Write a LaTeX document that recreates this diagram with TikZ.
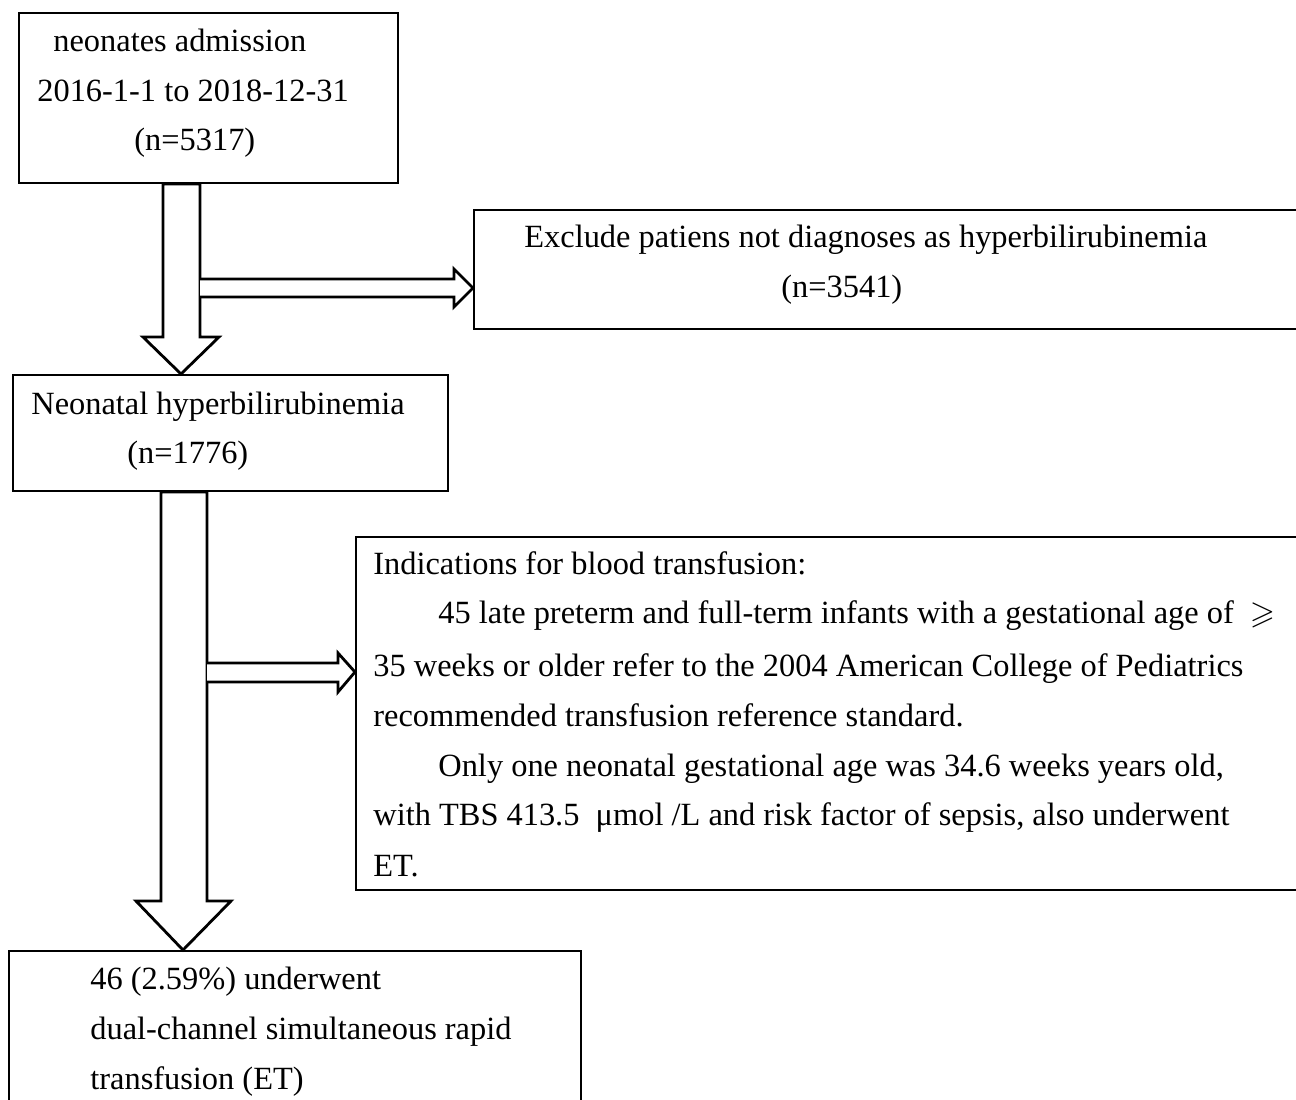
\documentclass[tikz,border=0pt]{standalone}
\usepackage{amssymb}
\usepackage{fontspec}
\setmainfont{Liberation Serif}
\usetikzlibrary{fit,%
		positioning}

\tikzset{box/.style={draw,line width=1pt,inner sep=0pt},
	txt/.style={anchor=base west,inner sep=0pt,font=\fontsize{16.2}{25}\selectfont},
	blockarrow/.style={draw,line width=1.4pt,line join=miter,fill=white}}

\begin{document}
\begin{tikzpicture}[x=0.5pt,y=-0.5pt]
\useasboundingbox (0,0) rectangle (1296,1099);
\clip (0,0) rectangle (1296,1099);

% boxes
\node[box,fit={(19,13) (398,183)}] (admit) {};
\node[box,fit={(474,210) (1310,329)}] (exclude) {};
\node[box,fit={(13,375) (448,491)}] (hyper) {};
\node[box,fit={(356,537) (1310,890)}] (indic) {};
\node[box,fit={(9,951) (581,1120)}] (et) {};

% texts
\node[txt] (admit-1) at (53,51) {neonates admission};
\node[txt] (admit-2) at (37,101) {2016-1-1 to 2018-12-31};
\node[txt] (admit-3) at (134,150) {(n=5317)};

\node[txt] (exclude-1) at (524,247) {Exclude patiens not diagnoses as hyperbilirubinemia};
\node[txt] (exclude-2) at (781,297) {(n=3541)};

\node[txt] (hyper-1) at (31,414) {Neonatal hyperbilirubinemia};
\node[txt] (hyper-2) at (127,463) {(n=1776)};

\node[txt] (indic-1) at (373,574) {Indications for blood transfusion:};
\node[txt] (indic-2) at (438,623) {45 late preterm and full-term infants with a gestational age of\ \ $\geqslant$};
\node[txt] (indic-3) at (373,676) {35 weeks or older refer to the 2004 American College of Pediatrics};
\node[txt] (indic-4) at (373,726) {recommended transfusion reference standard.};
\node[txt] (indic-5) at (438,776) {Only one neonatal gestational age was 34.6 weeks years old,};
\node[txt] (indic-6) at (373,825) {with TBS 413.5\ \ μmol /L and risk factor of sepsis, also underwent};
\node[txt] (indic-7) at (373,876) {ET.};

\node[txt] (et-1) at (90,989) {46 (2.59\%) underwent};
\node[txt] (et-2) at (90,1039) {dual-channel simultaneous rapid};
\node[txt] (et-3) at (90,1089) {transfusion (ET)};

% first arrow: admission -> hyperbilirubinemia, side branch -> exclude
\draw[blockarrow] (163,0 |- admit.south) -- (163,337) -- (143,337) -- (181,0 |- hyper.north)
	-- (219,337) -- (200,337) -- (200,0 |- admit.south) -- cycle;
\draw[blockarrow] (200,279) -- (454,279) -- (454,269) -- (exclude.west |- 0,288)
	-- (454,307) -- (454,297) -- (200,297);

% second arrow: hyperbilirubinemia -> ET, side branch -> indications
\draw[blockarrow] (161,0 |- hyper.south) -- (161,901) -- (136,901) -- (183,0 |- et.north)
	-- (231,901) -- (207,901) -- (207,0 |- hyper.south) -- cycle;
\draw[blockarrow] (207,663) -- (338,663) -- (338,653) -- (indic.west |- 0,672)
	-- (338,692) -- (338,682) -- (207,682);
\end{tikzpicture}
\end{document}
